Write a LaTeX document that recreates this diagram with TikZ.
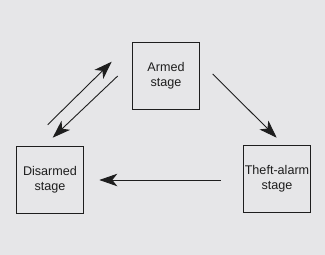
\documentclass[tikz,border=0pt]{standalone}
\usepackage{fontspec}
\setmainfont{Liberation Sans}
\usetikzlibrary{arrows.meta}
\definecolor{bg}{HTML}{E6E6E8}
\definecolor{ink}{HTML}{1E1E1E}
\tikzset{
  stagebox/.style={draw=ink, line width=1pt, minimum width=67pt, minimum height=67pt,
    inner sep=0pt, align=center, font=\fontsize{12.6}{14.8}\selectfont, text=ink},
  flow/.style={draw=ink, line width=0.9pt, -{Stealth[length=18pt,width=12.5pt,inset=5pt]}}
}
\begin{document}
\begin{tikzpicture}[x=1pt,y=-1pt]
\fill[bg] (0,0) rectangle (325,255);
\useasboundingbox (0,0) rectangle (325,255);
\node[stagebox] (armed) at (166,76) {Armed\\stage};
\node[stagebox] (disarmed) at (50,180) {Disarmed\\stage};
\node[stagebox] (theft) at (277,179) {Theft-alarm\\stage};
\coordinate (u1) at (47.7,124.7);
\coordinate (u2) at (111.7,61.7);
\coordinate (d1) at (117.7,76);
\coordinate (d2) at (52.7,137.7);
\coordinate (a1) at (212.7,74);
\coordinate (a2) at (276.7,137.7);
\coordinate (t1) at (221,180);
\coordinate (t2) at (99.3,180);
\draw[flow] (u1) -- (u2);
\draw[flow] (d1) -- (d2);
\draw[flow] (a1) -- (a2);
\draw[flow] (t1) -- (t2);
\end{tikzpicture}
\end{document}
